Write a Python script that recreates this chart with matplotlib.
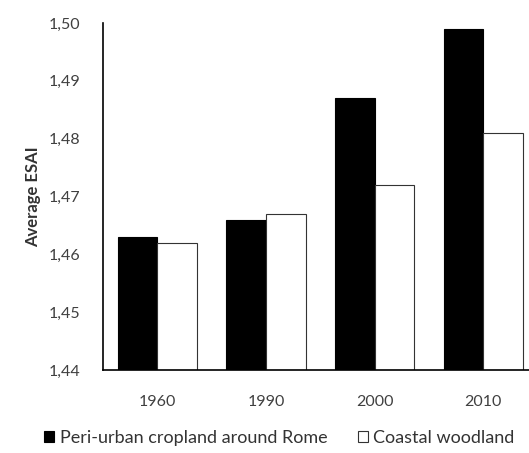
import numpy as np
import matplotlib
matplotlib.use("Agg")
import matplotlib.pyplot as plt
from matplotlib.ticker import FuncFormatter

plt.rcParams['font.family'] = ['Lato', 'DejaVu Sans']

years = ["1960", "1990", "2000", "2010"]
cropland = [1.463, 1.466, 1.487, 1.499]
woodland = [1.462, 1.467, 1.472, 1.481]
y_ticks = [1.44, 1.45, 1.46, 1.47, 1.48, 1.49, 1.50]

fig = plt.figure(figsize=(5.29, 4.53), dpi=100)
ax = fig.add_axes([103 / 529, 1 - 370 / 453, 1 - 103 / 529, (370 - 23) / 453])

x = np.arange(len(years))
w = 0.364
ax.bar(x - w / 2, np.array(cropland) - 1.44, w, bottom=1.44, color="black",
       edgecolor="black", linewidth=0.8, label="Peri-urban cropland around Rome")
ax.bar(x + w / 2, np.array(woodland) - 1.44, w, bottom=1.44, color="white",
       edgecolor="#333333", linewidth=0.8, label="Coastal woodland")

ax.set_ylim(1.44, 1.50)
ax.set_xlim(-0.5, 3.42)
ax.set_yticks(y_ticks)
ax.yaxis.set_major_formatter(FuncFormatter(lambda v, p: ("%.2f" % v).replace(".", ",")))
ax.set_xticks(x)
ax.set_xticklabels(years)
ax.tick_params(length=0, labelsize=11.5, colors="#404040", pad=18)
ax.tick_params(axis="y", pad=16)
for s in ["top", "right"]:
    ax.spines[s].set_visible(False)
ax.spines["left"].set_linewidth(1.2)
ax.spines["bottom"].set_linewidth(1.2)

ax.set_ylabel("Average ESAI", fontsize=12, fontweight="bold", color="#333333", labelpad=6)

fig.legend(loc="lower left", bbox_to_anchor=(28 / 529, -0.02), ncol=2, frameon=False,
           fontsize=13, handlelength=0.55, handleheight=0.6, handletextpad=0.3,
           columnspacing=1.7, labelcolor="#333333")

fig.savefig("out.png", dpi=100)
